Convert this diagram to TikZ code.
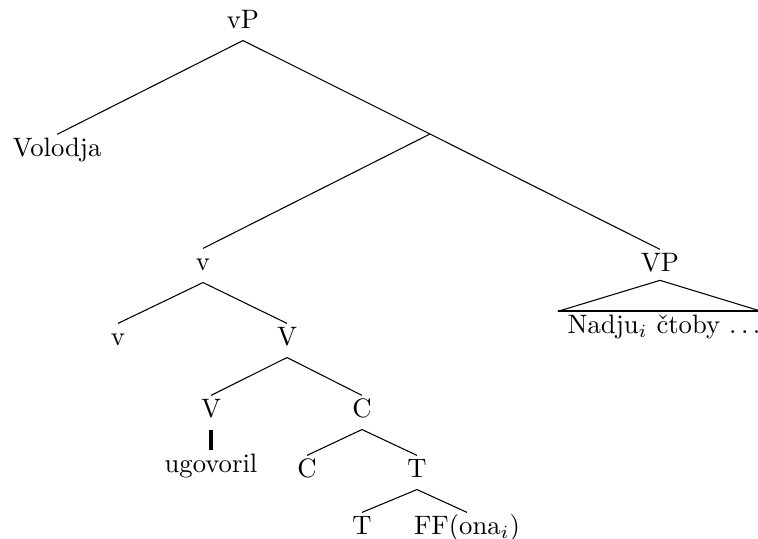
\documentclass[tikz,border=0pt]{standalone}
\usepackage{fontspec}
\usetikzlibrary{calc}
\begin{document}
\begin{tikzpicture}[x=0.375pt,y=-0.375pt,
  lbl/.style={anchor=base,inner xsep=1pt,inner ysep=1pt,text height=6.9pt,text depth=3.5pt},
  branch/.style={line width=0.4pt},
  headline/.style={line width=1.2pt}]
\useasboundingbox (0,0) rectangle (758,539);

% labels of the tree
\node[lbl] (vP)   at (243,28)  {vP};
\node[lbl] (vol)  at (57,156)  {Volodja};
\coordinate (j) at (430,134);
\node[lbl] (v1)   at (203,270) {v};
\node[lbl] (VP)   at (660,271) {VP};
\node[lbl] (v2)   at (118,345) {v};
\node[lbl] (V1)   at (287,345) {V};
\node[lbl] (V2)   at (211,417) {V};
\node[lbl] (C1)   at (362,417) {C};
\node[lbl] (ugo)  at (211,472) {ugovoril};
\node[lbl] (C2)   at (307,477) {C};
\node[lbl] (T1)   at (417,477) {T};
\node[lbl] (T2)   at (362,534) {T};
\node[lbl] (FF)   at (467,534) {FF(ona$_i$)};
\node[lbl,inner xsep=0pt] (nad) at (664,333)
  {Nadju$_i$ čtoby .\kern1.7pt.\kern1.7pt.};

% branches
\draw[branch] (vP.south) -- (vol.north);
\draw[branch] (vP.south) -- (j) -- (VP.north);
\draw[branch] (j) -- (v1.north);
\draw[branch] (v1.south) -- (v2.north);
\draw[branch] (v1.south) -- (V1.north);
\draw[branch] (V1.south) -- (V2.north);
\draw[branch] (V1.south) -- (C1.north);
\draw[headline] (V2.south) -- (ugo.north);
\draw[branch] (C1.south) -- (C2.north);
\draw[branch] (C1.south) -- (T1.north);
\draw[branch] (T1.south) -- (T2.north);
\draw[branch] (T1.south) -- (FF.north);

% roof over the VP material
\coordinate (apex) at ($(VP.south)+(0,1.2pt)$);
\coordinate (roofL) at ($(nad.north west)+(-3.5pt,0)$);
\coordinate (roofR) at ($(nad.north east)+(0.3pt,0)$);
\draw[branch] (roofL) -- (apex) -- (roofR);
\draw[line width=0.8pt] (roofL) -- (roofR);
\end{tikzpicture}
\end{document}
